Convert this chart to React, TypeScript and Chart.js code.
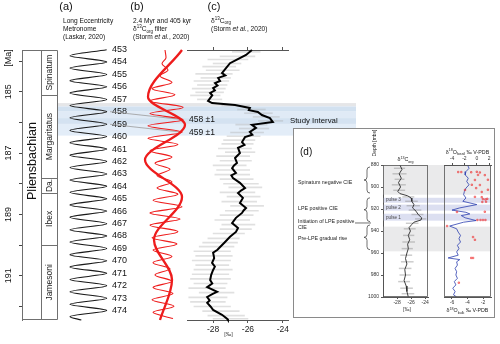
import React, { useEffect, useRef } from 'react';
import { Chart, registerables } from 'chart.js';

Chart.register(...registerables);

const FONT = '"Liberation Sans", Arial, Helvetica, sans-serif';
const W = 500;
const H = 344;

// ================= DATA =================
// Age axis (Ma) and stratigraphy
const AGE_MIN = 183.64;
const AGE_MAX = 192.44;
const ageTicks = [184, 185, 186, 187, 188, 189, 190, 191, 192];
const ageTickLabels = ['', '185', '', '187', '', '189', '', '191', ''];
const ageAxisTitle = '[Ma]';
const ageAxisTitleAge = 183.9;
const stageName = 'Pliensbachian';
const stageLabelAge = 187.26;
const zoneNames = ['Spinatum', 'Margaritatus', 'Da.', 'Ibex', 'Jamesoni'];
const zoneTops = [183.64, 185.11, 187.81, 188.3, 189.99];
const zoneBases = [185.11, 187.81, 188.3, 189.99, 192.44];

// Study interval band (Ma)
const studyBandTops = [185.37, 185.48, 185.63, 185.86, 186.05];
const studyBandBases = [185.48, 185.63, 185.86, 186.05, 186.43];
const studyLabel = 'Study Interval';
const studyLabelAge = 185.95;

// (a) Long eccentricity metronome
const eccCycles = [453, 454, 455, 456, 457, 458, 459, 460, 461, 462, 463, 464, 465, 466, 467, 468, 469, 470, 471, 472, 473, 474];
const eccPeakAges = [183.63, 184.03, 184.44, 184.84, 185.25, 185.65, 186.06, 186.46, 186.87, 187.27, 187.68, 188.08, 188.49, 188.89, 189.3, 189.7, 190.11, 190.51, 190.92, 191.32, 191.73, 192.13];
const eccPeakValues = [0.058, 0.058, 0.058, 0.058, 0.058, 0.058, 0.058, 0.058, 0.058, 0.058, 0.058, 0.058, 0.058, 0.058, 0.058, 0.058, 0.058, 0.058, 0.058, 0.058, 0.058, 0.058];
const eccTroughAges = [183.83, 184.23, 184.64, 185.04, 185.45, 185.85, 186.26, 186.66, 187.07, 187.47, 187.88, 188.28, 188.69, 189.09, 189.5, 189.9, 190.31, 190.71, 191.12, 191.52, 191.93, 192.33];
const eccTroughValues = [0.003, 0.003, 0.003, 0.003, 0.003, 0.003, 0.003, 0.003, 0.003, 0.003, 0.003, 0.003, 0.003, 0.003, 0.003, 0.003, 0.003, 0.003, 0.003, 0.003, 0.003, 0.003];
const eccEndAge = 192.44;
const eccEndValue = 0.02;

// (b) 2.4 Myr filter (thick) and 405 kyr filter (thin)
const filt24Ages = [183.64, 185.17, 186.08, 187.22, 188.43, 189.83, 191.13, 192.44];
const filt24Values = [0.85, -0.85, 1.0, -1.0, 0.85, -0.55, 0.35, -0.25];
const filt405StartAge = 183.64;
const filt405StartValue = 0.0;
const filt405PeakAges = [183.89, 184.29, 184.7, 185.1, 185.51, 185.91, 186.32, 186.72, 187.13, 187.53, 187.94, 188.34, 188.75, 189.15, 189.56, 189.96, 190.37, 190.77, 191.18, 191.58, 191.99, 192.39];
const filt405PeakValues = [0.05, 0.15, 0.35, 0.5, 0.9, 0.9, 0.85, 0.65, 0.35, 0.25, 0.35, 0.65, 0.85, 0.75, 0.65, 0.6, 0.35, 0.25, 0.35, 0.4, 0.45, 0.4];
const filt405TroughAges = [184.09, 184.49, 184.9, 185.3, 185.71, 186.11, 186.52, 186.92, 187.33, 187.73, 188.14, 188.54, 188.95, 189.35, 189.76, 190.16, 190.57, 190.97, 191.38, 191.78, 192.19];
const filt405TroughValues = [-0.15, -0.25, -0.65, -0.75, -0.75, -0.85, -0.85, -0.75, -0.5, -0.4, -0.4, -0.6, -0.75, -0.75, -0.65, -0.6, -0.6, -0.5, -0.6, -0.65, -0.6];
const tieCycles = [458, 459];
const tieLabels = ['458 ±1', '459 ±1'];

// (c) d13C org (smoothed) and raw spread
const cAges = [183.64, 183.8, 183.97, 184.07, 184.23, 184.39, 184.47, 184.55, 184.65, 184.72, 184.8, 184.88, 184.96, 185.04, 185.12, 185.21, 185.3, 185.37, 185.43, 185.53, 185.6, 185.66, 185.76, 185.86, 185.99, 186.08, 186.18, 186.31, 186.4, 186.48, 186.64, 186.73, 186.83, 187.0, 187.08, 187.16, 187.32, 187.4, 187.49, 187.65, 187.73, 187.81, 187.97, 188.14, 188.22, 188.3, 188.46, 188.63, 188.79, 188.87, 188.95, 189.11, 189.28, 189.44, 189.57, 189.73, 189.93, 190.06, 190.15, 190.25, 190.42, 190.58, 190.7, 190.81, 190.97, 191.14, 191.25, 191.37, 191.52, 191.6, 191.69, 191.8, 191.88, 192.0, 192.11, 192.27, 192.4, 192.44];
const cValues = [-25.77, -26.11, -26.69, -27.03, -27.26, -27.49, -27.3, -27.71, -27.6, -27.89, -27.75, -28.0, -27.9, -28.17, -28.05, -28.17, -28.29, -28.06, -26.74, -25.89, -25.95, -25.43, -25.2, -24.74, -24.57, -25.77, -25.54, -25.89, -25.75, -26.17, -26.34, -26.2, -26.57, -26.46, -26.6, -26.74, -26.63, -26.8, -26.91, -26.69, -26.95, -26.86, -26.46, -26.17, -26.4, -26.57, -26.29, -26.46, -26.11, -26.25, -26.34, -26.69, -26.91, -26.57, -26.69, -27.03, -27.37, -27.6, -27.75, -28.0, -27.94, -28.06, -27.9, -28.0, -28.11, -28.17, -28.05, -28.34, -27.77, -28.05, -28.34, -28.2, -28.34, -28.15, -28.0, -27.49, -27.2, -27.15];
const cRawAges = [183.7, 183.85, 183.95, 184.08, 184.18, 184.3, 184.42, 184.55, 184.65, 184.78, 184.9, 185.02, 185.12, 185.25, 185.45, 185.58, 185.7, 185.82, 185.95, 186.07, 186.2, 186.33, 186.45, 186.58, 186.7, 186.85, 186.97, 187.1, 187.25, 187.4, 187.55, 187.7, 187.85, 188.0, 188.12, 188.28, 188.42, 188.58, 188.72, 188.88, 189.02, 189.18, 189.33, 189.48, 189.62, 189.78, 189.92, 190.05, 190.2, 190.35, 190.5, 190.65, 190.8, 190.95, 191.1, 191.25, 191.4, 191.55, 191.7, 191.85, 192.0, 192.15, 192.3, 192.4];
const cRawMin = [-26.9, -27.6, -28.3, -28.0, -28.6, -28.4, -29.0, -28.7, -29.1, -28.9, -29.2, -29.0, -29.3, -28.9, -27.5, -26.6, -26.2, -25.7, -25.4, -26.7, -26.5, -27.0, -27.2, -27.4, -27.5, -27.7, -27.3, -27.8, -27.6, -28.0, -27.8, -27.9, -27.6, -27.4, -27.1, -27.6, -27.2, -27.5, -27.0, -27.3, -27.6, -27.9, -27.5, -27.6, -28.0, -28.3, -28.6, -28.8, -29.1, -29.0, -29.2, -29.0, -29.1, -29.2, -29.3, -29.1, -29.4, -28.8, -29.4, -29.3, -29.1, -28.6, -28.3, -28.0];
const cRawMax = [-25.3, -25.6, -26.0, -26.4, -26.7, -26.5, -26.9, -27.0, -27.1, -27.2, -27.3, -27.4, -27.6, -27.5, -25.9, -25.0, -24.6, -24.2, -24.0, -24.9, -24.8, -25.1, -25.3, -25.6, -25.7, -25.8, -25.6, -25.9, -25.8, -26.1, -25.9, -25.9, -25.7, -25.4, -25.2, -25.6, -25.3, -25.5, -25.1, -25.4, -25.7, -25.9, -25.6, -25.8, -26.2, -26.5, -26.6, -26.8, -27.0, -26.9, -27.0, -27.1, -26.9, -27.1, -27.0, -27.2, -27.3, -26.8, -27.2, -27.3, -27.0, -26.5, -26.2, -26.0];
const cTicks = [-28, -26, -24];

// (d) inset: depth domain
const depthTicks = [880, 900, 920, 940, 960, 980, 1000];
const insetShadeTops = [880, 909.8, 916, 924.3, 936];
const insetShadeBases = [907, 914.3, 921.5, 930.6, 958.5];
const insetShadeKinds = ['grey', 'pulse', 'pulse', 'pulse', 'grey'];
const pulseNames = ['pulse 3', 'pulse 2', 'pulse 1'];
const pulseDepths = [912, 918.7, 927.5];
const annoTexts = ['Spinatum negative CIE', 'LPE positive CIE', 'Initiation of LPE positive', 'CIE', 'Pre-LPE gradual rise'];
const annoDepths = [895.5, 920, 931, 937.3, 947.3];
const braceTops = [881.8, 909.8, 934.5];
const braceBases = [905.5, 931.5, 957];
const initiationDepth = 932.7;

const iC13Depths = [880, 884, 888, 892, 896, 900, 904, 906, 908, 910, 913, 916, 919, 922, 925, 928, 930, 932, 934, 937, 940, 944, 948, 952, 956, 960, 965, 970, 975, 980, 985, 990, 995, 1000];
const iC13Values = [-27.6, -27.3, -27.7, -27.4, -27.8, -27.5, -27.9, -27.6, -26.5, -26.0, -25.9, -25.6, -25.8, -25.3, -25.0, -24.5, -24.6, -25.6, -25.9, -26.3, -26.1, -26.4, -26.2, -26.5, -26.4, -26.6, -26.8, -26.6, -26.9, -26.8, -27.0, -26.7, -26.6, -26.4];
const iC13RawDepths = [883, 888, 893, 898, 903, 909, 913, 917, 921, 925, 929, 933, 938, 944, 950, 956, 962, 968, 974, 980, 986, 992, 997];
const iC13RawMin = [-28.4, -28.6, -28.3, -28.7, -28.5, -27.2, -26.8, -26.6, -26.3, -25.9, -25.4, -26.7, -27.0, -27.1, -27.2, -27.3, -27.5, -27.4, -27.7, -27.6, -27.8, -27.5, -27.3];
const iC13RawMax = [-26.9, -26.7, -27.0, -26.8, -26.9, -25.6, -25.1, -24.8, -24.6, -24.3, -23.9, -25.0, -25.4, -25.6, -25.5, -25.8, -25.9, -25.7, -26.0, -26.1, -26.2, -25.8, -25.6];
const iC13Ticks = [-28, -26, -24];

const bulkDepths = [880, 883, 886, 889, 892, 895, 898, 901, 904, 907, 910, 913, 916, 919, 921, 923, 924.5, 926, 928, 930.5, 932, 935.5, 938, 941, 944, 947, 950, 953, 956, 959, 962, 964.5, 966, 968, 971, 974, 977, 980, 983, 986, 989, 992, 995, 998, 1000];
const bulkValues = [-4.0, -3.8, -4.2, -4.3, -3.9, -4.1, -3.8, -4.2, -4.4, -4.5, -4.2, -4.6, -2.8, -5.0, -6.0, -4.2, -3.7, -4.8, -4.3, -2.9, -4.5, -6.3, -5.4, -5.2, -4.9, -5.1, -4.9, -5.3, -5.1, -5.4, -5.2, -6.5, -5.0, -5.4, -5.3, -5.6, -5.4, -5.5, -5.3, -5.7, -5.5, -5.9, -5.6, -5.8, -5.4];
const bulkTicks = [-6, -4, -2];
const fossilDepths = [886.4, 886.4, 886.6, 886.2, 886.8, 889, 889.2, 893.6, 893.4, 898, 898.2, 901, 902.7, 902.5, 904.5, 909, 909.2, 911, 911.3, 910.8, 913.6, 913.4, 922.7, 922.5, 930, 930, 930, 930, 935.5, 945.5, 948, 964.5, 964.5, 987];
const fossilValues = [-3.0, -2.5, -0.9, 0.0, 0.5, 0.2, 1.3, -0.3, 1.8, -0.8, 0.5, -0.1, -1.9, 1.8, 0.8, -0.3, 0.8, 1.0, 1.4, 1.7, 0.9, 1.5, -3.2, 1.3, 0.1, 0.6, 1.0, 1.4, -4.8, -0.6, -0.3, -0.9, -0.6, -2.9];
const fossilTicks = [-4, -2, 0, 2];

// ================= LAYOUT / STYLE =================
const LAY = {
  ageAxisX: 22, stageDivX: 41, zoneRightX: 57, top: 50, bottom: 320,
  eccLeft: 68, eccRight: 108,
  filtLeft: 140, filtRight: 190,
  cLeft: 187, cRight: 288,
  bandRight: 356,
  boxL: 293, boxT: 128, boxR: 495, boxB: 318,
  i1Left: 383, i1Right: 428, i2Left: 444, i2Right: 491, iTop: 165, iBottom: 297,
};
const STUDY_SHADES = ['#e5e6e8', '#d2e1f0', '#e0eaf6', '#d4e2f1', '#e3edf8'];
const INSET_SHADES: Record<string, string> = { grey: '#eaeaeb', pulse: '#dcdff1' };
const RED = '#ee1c1c';

type Part = { t: string; s: number; dy?: number; it?: boolean };

function drawParts(ctx: any, x: number, y: number, parts: Part[], align = 'left', color = '#111', rot = 0) {
  ctx.save();
  ctx.translate(x, y);
  if (rot) ctx.rotate(rot);
  ctx.fillStyle = color;
  ctx.textBaseline = 'middle';
  ctx.textAlign = 'left';
  const fontOf = (p: Part) => `${p.it ? 'italic ' : ''}${p.s}px ${FONT}`;
  let w = 0;
  for (const p of parts) { ctx.font = fontOf(p); w += ctx.measureText(p.t).width; }
  let cx = align === 'left' ? 0 : align === 'center' ? -w / 2 : -w;
  for (const p of parts) {
    ctx.font = fontOf(p);
    ctx.fillText(p.t, cx, p.dy || 0);
    cx += ctx.measureText(p.t).width;
  }
  ctx.restore();
}
function txt(ctx: any, t: string, x: number, y: number, s: number, align = 'left', color = '#111', rot = 0) {
  drawParts(ctx, x, y, [{ t, s }], align, color, rot);
}
function deltaParts(sup: string, el: string, sub: string, s: number, tail = ''): Part[] {
  const p: Part[] = [
    { t: 'δ', s },
    { t: sup, s: s * 0.68, dy: -s * 0.38 },
    { t: el, s },
    { t: sub, s: s * 0.68, dy: s * 0.3 },
  ];
  if (tail) p.push({ t: tail, s });
  return p;
}
function stormParts(s: number): Part[] {
  return [{ t: '(Storm ', s }, { t: 'et al.', s, it: true }, { t: ', 2020)', s }];
}

function common(padding: any) {
  return {
    animation: false,
    responsive: false,
    maintainAspectRatio: false,
    events: [],
    indexAxis: 'y',
    layout: { padding },
    plugins: { legend: { display: false }, tooltip: { enabled: false } },
  };
}
function ageScale() {
  return { type: 'linear', display: false, reverse: true, min: AGE_MIN, max: AGE_MAX, offset: false };
}
function fixedTicks(vals: number[]) {
  return (s: any) => { s.ticks = vals.map((v) => ({ value: v })); };
}
const mainPad = (left: number, right: number) => ({ left, right: W - right, top: LAY.top, bottom: H - LAY.bottom });

// ================= PLUGINS =================
const stratPlugin = {
  id: 'strat',
  beforeDatasetsDraw(chart: any) {
    const { ctx } = chart;
    const y = chart.scales.y;
    ctx.save();
    for (let i = 0; i < studyBandTops.length; i++) {
      const t = y.getPixelForValue(studyBandTops[i]);
      const b = y.getPixelForValue(studyBandBases[i]);
      ctx.fillStyle = STUDY_SHADES[i];
      ctx.fillRect(LAY.zoneRightX + 1, t, LAY.bandRight - LAY.zoneRightX - 1, b - t);
    }
    ctx.restore();
  },
  afterDraw(chart: any) {
    const { ctx } = chart;
    const y = chart.scales.y;
    const top = Math.round(y.getPixelForValue(AGE_MIN)) + 0.5;
    const bot = Math.round(y.getPixelForValue(AGE_MAX)) - 0.5;
    const X0 = LAY.ageAxisX + 0.5, X1 = LAY.stageDivX + 0.5, X2 = LAY.zoneRightX + 0.5;
    ctx.save();
    ctx.strokeStyle = '#707070';
    ctx.lineWidth = 1;
    ctx.beginPath();
    ctx.moveTo(X0, top); ctx.lineTo(X2, top);
    ctx.moveTo(X0, bot); ctx.lineTo(X2, bot);
    ctx.moveTo(X0, top); ctx.lineTo(X0, bot);
    ctx.moveTo(X1, top); ctx.lineTo(X1, bot);
    ctx.moveTo(X2, top); ctx.lineTo(X2, bot);
    for (let i = 1; i < zoneTops.length; i++) {
      const p = Math.round(y.getPixelForValue(zoneTops[i])) + 0.5;
      ctx.moveTo(X1, p); ctx.lineTo(X2, p);
    }
    ctx.stroke();
    ctx.restore();
    for (let i = 0; i < zoneNames.length; i++) {
      const c = y.getPixelForValue((zoneTops[i] + zoneBases[i]) / 2);
      txt(ctx, zoneNames[i], (X1 + X2) / 2 + 0.5, c, 8.5, 'center', '#222', -Math.PI / 2);
    }
    txt(ctx, stageName, (X0 + X1) / 2 + 0.5, y.getPixelForValue(stageLabelAge), 12.5, 'center', '#111', -Math.PI / 2);
    for (let i = 0; i < ageTicks.length; i++) {
      if (ageTickLabels[i]) txt(ctx, ageTickLabels[i], 9, y.getPixelForValue(ageTicks[i]), 9, 'center', '#111', -Math.PI / 2);
    }
    txt(ctx, ageAxisTitle, 9, y.getPixelForValue(ageAxisTitleAge), 9, 'center', '#111', -Math.PI / 2);
    // panel headers
    txt(ctx, '(a)', 66, 7, 11, 'center');
    txt(ctx, 'Long Eccentricity', 63, 21, 6.6);
    txt(ctx, 'Metronome', 63, 29.5, 6.6);
    txt(ctx, '(Laskar, 2020)', 63, 37.5, 6.6);
    txt(ctx, '(b)', 137, 7, 11, 'center');
    txt(ctx, '2.4 Myr and 405 kyr', 133, 21, 6.6);
    drawParts(ctx, 133, 29.5, deltaParts('13', 'C', 'org', 6.6, ' filter'));
    drawParts(ctx, 133, 37.5, stormParts(6.6));
    txt(ctx, '(c)', 214, 7, 11, 'center');
    drawParts(ctx, 211, 21, deltaParts('13', 'C', 'org', 6.6));
    drawParts(ctx, 211, 29.5, stormParts(6.6));
  },
};

const eccPlugin = {
  id: 'eccLabels',
  afterDraw(chart: any) {
    const { ctx } = chart;
    const y = chart.scales.y;
    for (let i = 0; i < eccCycles.length; i++) {
      txt(ctx, String(eccCycles[i]), LAY.eccRight + 4, y.getPixelForValue(eccPeakAges[i]), 9, 'left', '#111');
    }
  },
};

const tiePlugin = {
  id: 'ties',
  beforeDatasetsDraw(chart: any) {
    const { ctx } = chart;
    const y = chart.scales.y;
    const x = chart.scales.x;
    ctx.save();
    ctx.strokeStyle = '#9a9a9a';
    ctx.lineWidth = 0.8;
    for (const cyc of tieCycles) {
      const k = cyc - eccCycles[0];
      ctx.beginPath();
      ctx.moveTo(LAY.eccRight + 2, y.getPixelForValue(eccPeakAges[k]));
      ctx.lineTo(x.getPixelForValue(filt405PeakValues[k]), y.getPixelForValue(filt405PeakAges[k]));
      ctx.stroke();
    }
    ctx.restore();
  },
};

const cPlugin = {
  id: 'cLabels',
  afterDraw(chart: any) {
    const { ctx } = chart;
    const y = chart.scales.y;
    tieCycles.forEach((cyc, j) => {
      const k = cyc - eccCycles[0];
      txt(ctx, tieLabels[j], LAY.cLeft + 2, y.getPixelForValue(filt405PeakAges[k]), 8.5, 'left', '#111');
    });
    txt(ctx, studyLabel, 290, y.getPixelForValue(studyLabelAge), 7.8, 'left', '#111');
    txt(ctx, '[‰]', (LAY.cLeft + LAY.cRight) / 2 - 9, 334, 5.5, 'center', '#333');
  },
};

function drawBrace(ctx: any, x: number, t: number, b: number) {
  const m = (t + b) / 2;
  const d = 3;
  ctx.beginPath();
  ctx.moveTo(x + d, t);
  ctx.quadraticCurveTo(x, t, x, t + d);
  ctx.lineTo(x, m - d);
  ctx.quadraticCurveTo(x, m, x - d, m);
  ctx.quadraticCurveTo(x, m, x, m + d);
  ctx.lineTo(x, b - d);
  ctx.quadraticCurveTo(x, b, x + d, b);
  ctx.stroke();
}

const inset1Plugin = {
  id: 'inset1',
  beforeDraw(chart: any) {
    const { ctx } = chart;
    ctx.save();
    ctx.fillStyle = '#ffffff';
    ctx.fillRect(LAY.boxL, LAY.boxT, LAY.boxR - LAY.boxL, LAY.boxB - LAY.boxT);
    ctx.strokeStyle = '#8a8a8a';
    ctx.lineWidth = 1;
    ctx.strokeRect(LAY.boxL + 0.5, LAY.boxT + 0.5, LAY.boxR - LAY.boxL - 1, LAY.boxB - LAY.boxT - 1);
    ctx.restore();
  },
  beforeDatasetsDraw(chart: any) {
    const { ctx } = chart;
    const y = chart.scales.y;
    ctx.save();
    for (let i = 0; i < insetShadeTops.length; i++) {
      const t = y.getPixelForValue(insetShadeTops[i]);
      const b = y.getPixelForValue(insetShadeBases[i]);
      ctx.fillStyle = INSET_SHADES[insetShadeKinds[i]];
      ctx.fillRect(LAY.i1Left, t, LAY.i2Right - LAY.i1Left, b - t);
    }
    ctx.restore();
    for (let i = 0; i < pulseNames.length; i++) {
      txt(ctx, pulseNames[i], LAY.i1Left + 3, y.getPixelForValue(pulseDepths[i]), 4.6, 'left', '#444');
    }
  },
  afterDraw(chart: any) {
    const { ctx } = chart;
    const y = chart.scales.y;
    const a = chart.chartArea;
    ctx.save();
    ctx.strokeStyle = '#555';
    ctx.lineWidth = 0.8;
    ctx.strokeRect(Math.round(a.left) + 0.5, Math.round(a.top) + 0.5, Math.round(a.right - a.left) - 1, Math.round(a.bottom - a.top) - 1);
    ctx.strokeStyle = '#333';
    ctx.lineWidth = 0.7;
    for (let i = 0; i < braceTops.length; i++) {
      drawBrace(ctx, 367, y.getPixelForValue(braceTops[i]), y.getPixelForValue(braceBases[i]));
    }
    ctx.beginPath();
    const iy = y.getPixelForValue(initiationDepth);
    ctx.moveTo(355, iy); ctx.lineTo(371, iy);
    ctx.stroke();
    ctx.restore();
    for (let i = 0; i < annoTexts.length; i++) {
      txt(ctx, annoTexts[i], 298, y.getPixelForValue(annoDepths[i]), 5.3, 'left', '#222');
    }
    txt(ctx, '(d)', 300, 152, 10, 'left', '#111');
    txt(ctx, 'Depth [mbs]', 375, 143, 5, 'center', '#222', -Math.PI / 2);
    drawParts(ctx, (LAY.i1Left + LAY.i1Right) / 2, 160, deltaParts('13', 'C', 'org', 5.3), 'center', '#222');
    txt(ctx, '[‰]', 407, 310, 5, 'center', '#333');
  },
};

const inset2Plugin = {
  id: 'inset2',
  afterDraw(chart: any) {
    const { ctx } = chart;
    const a = chart.chartArea;
    ctx.save();
    ctx.strokeStyle = '#555';
    ctx.lineWidth = 0.8;
    ctx.strokeRect(Math.round(a.left) + 0.5, Math.round(a.top) + 0.5, Math.round(a.right - a.left) - 1, Math.round(a.bottom - a.top) - 1);
    ctx.restore();
    const cx = (LAY.i2Left + LAY.i2Right) / 2;
    drawParts(ctx, cx, 152.5, deltaParts('18', 'O', 'fossil', 5.3, ' ‰ V-PDB'), 'center', '#222');
    drawParts(ctx, cx, 311, deltaParts('18', 'O', 'bulk', 5.3, ' ‰ V-PDB'), 'center', '#222');
  },
};

// ================= COMPONENT =================
export default function App() {
  const r1 = useRef<HTMLCanvasElement>(null);
  const r2 = useRef<HTMLCanvasElement>(null);
  const r3 = useRef<HTMLCanvasElement>(null);
  const r4 = useRef<HTMLCanvasElement>(null);
  const r5 = useRef<HTMLCanvasElement>(null);
  const r6 = useRef<HTMLCanvasElement>(null);

  useEffect(() => {
    const charts: any[] = [];

    // 1: age axis + stratigraphy + study band
    charts.push(new Chart(r1.current as any, {
      type: 'scatter',
      data: { datasets: [{ data: [] }] },
      options: {
        ...common({ left: 0, right: W - LAY.zoneRightX, top: LAY.top, bottom: H - LAY.bottom }),
        indexAxis: 'x',
        scales: {
          x: { type: 'linear', display: false, min: 0, max: 1 },
          y: {
            type: 'linear', reverse: true, min: AGE_MIN, max: AGE_MAX, position: 'left', offset: false,
            afterBuildTicks: fixedTicks(ageTicks),
            afterFit: (s: any) => { s.width = LAY.ageAxisX; },
            ticks: { display: false },
            grid: { drawOnChartArea: false, drawTicks: true, tickLength: 3, color: '#444', lineWidth: 1 },
            border: { display: true, color: '#707070', width: 1 },
          },
        },
      } as any,
      plugins: [stratPlugin],
    } as any));

    // 2: eccentricity
    const eccPts = [
      ...eccPeakAges.map((a, i) => ({ y: a, x: eccPeakValues[i] })),
      ...eccTroughAges.map((a, i) => ({ y: a, x: eccTroughValues[i] })),
      { y: eccEndAge, x: eccEndValue },
    ].sort((p, q) => p.y - q.y);
    charts.push(new Chart(r2.current as any, {
      type: 'line',
      data: {
        datasets: [{
          data: eccPts, borderColor: '#1a1a1a', borderWidth: 1.1, pointRadius: 0,
          cubicInterpolationMode: 'monotone', clip: false, indexAxis: 'y',
        }],
      },
      options: {
        ...common(mainPad(LAY.eccLeft, LAY.eccRight)),
        scales: { x: { type: 'linear', display: false, min: 0, max: 0.06 }, y: ageScale() },
      } as any,
      plugins: [eccPlugin],
    } as any));

    // 3: filters
    const f24 = filt24Ages.map((a, i) => ({ y: a, x: filt24Values[i] }));
    const f405 = [
      { y: filt405StartAge, x: filt405StartValue },
      ...filt405PeakAges.map((a, i) => ({ y: a, x: filt405PeakValues[i] })),
      ...filt405TroughAges.map((a, i) => ({ y: a, x: filt405TroughValues[i] })),
    ].sort((p, q) => p.y - q.y);
    charts.push(new Chart(r3.current as any, {
      type: 'line',
      data: {
        datasets: [
          { data: f24, borderColor: RED, borderWidth: 2.3, pointRadius: 0, cubicInterpolationMode: 'monotone', clip: false, indexAxis: 'y' },
          { data: f405, borderColor: RED, borderWidth: 1.1, pointRadius: 0, cubicInterpolationMode: 'monotone', clip: false, indexAxis: 'y' },
        ],
      },
      options: {
        ...common(mainPad(LAY.filtLeft, LAY.filtRight)),
        scales: { x: { type: 'linear', display: false, min: -1.25, max: 1.25 }, y: ageScale() },
      } as any,
      plugins: [tiePlugin],
    } as any));

    // 4: d13C org panel (c)
    charts.push(new Chart(r4.current as any, {
      type: 'bar',
      data: {
        datasets: [
          {
            type: 'line', data: cAges.map((a, i) => ({ y: a, x: cValues[i] })),
            borderColor: '#000', borderWidth: 2, pointRadius: 0, tension: 0, order: 0, clip: false, indexAxis: 'y',
          },
          {
            type: 'bar', data: cRawAges.map((a, i) => ({ y: a, x: [cRawMin[i], cRawMax[i]] })),
            backgroundColor: 'rgba(165,165,165,0.35)', barThickness: 1, order: 1, indexAxis: 'y',
          },
        ],
      },
      options: {
        ...common({ left: LAY.cLeft, right: W - LAY.cRight, top: LAY.top, bottom: H - LAY.bottom - 14 }),
        scales: {
          x: {
            type: 'linear', position: 'bottom', min: -29.5, max: -23.7,
            afterBuildTicks: fixedTicks(cTicks),
            afterFit: (s: any) => { s.height = 14; },
            ticks: { font: { family: FONT, size: 8.5 }, color: '#222', padding: 2, callback: (v: any) => String(v) },
            grid: { drawOnChartArea: false, tickLength: 3, color: '#555' },
            border: { display: true, color: '#555' },
          },
          x2: {
            type: 'linear', axis: 'x', position: 'top', min: -29.5, max: -23.7,
            afterBuildTicks: fixedTicks(cTicks),
            afterFit: (s: any) => { s.height = 0; },
            ticks: { display: false },
            grid: { drawOnChartArea: false, tickLength: 3, color: '#555' },
            border: { display: true, color: '#555' },
          },
          y: ageScale(),
        },
      } as any,
      plugins: [cPlugin],
    } as any));

    // 5: inset d13C
    charts.push(new Chart(r5.current as any, {
      type: 'bar',
      data: {
        datasets: [
          {
            type: 'line', data: iC13Depths.map((d, i) => ({ y: d, x: iC13Values[i] })),
            borderColor: '#2a2a2a', borderWidth: 0.9, pointRadius: 0, tension: 0, order: 0, indexAxis: 'y',
          },
          {
            type: 'bar', data: iC13RawDepths.map((d, i) => ({ y: d, x: [iC13RawMin[i], iC13RawMax[i]] })),
            backgroundColor: 'rgba(140,140,140,0.45)', barThickness: 0.8, order: 1, indexAxis: 'y',
          },
        ],
      },
      options: {
        ...common({ left: LAY.i1Left - 20, right: W - LAY.i1Right, top: LAY.iTop, bottom: H - LAY.iBottom - 10 }),
        scales: {
          x: {
            type: 'linear', position: 'bottom', min: -30, max: -23.6,
            afterBuildTicks: fixedTicks(iC13Ticks),
            afterFit: (s: any) => { s.height = 10; },
            ticks: { font: { family: FONT, size: 5 }, color: '#333', padding: 1, callback: (v: any) => String(v) },
            grid: { drawOnChartArea: false, tickLength: 2, color: '#555' },
            border: { display: true, color: '#555' },
          },
          y: {
            type: 'linear', position: 'left', reverse: true, min: 880, max: 1000, offset: false,
            afterBuildTicks: fixedTicks(depthTicks),
            afterFit: (s: any) => { s.width = 20; },
            ticks: { font: { family: FONT, size: 5 }, color: '#333', padding: 2, callback: (v: any) => String(v) },
            grid: { drawOnChartArea: false, tickLength: 2, color: '#555', offset: false },
            border: { display: true, color: '#555' },
          },
        },
      } as any,
      plugins: [inset1Plugin],
    } as any));

    // 6: inset d18O
    charts.push(new Chart(r6.current as any, {
      type: 'line',
      data: {
        datasets: [
          {
            data: bulkDepths.map((d, i) => ({ y: d, x: bulkValues[i] })), xAxisID: 'x',
            borderColor: '#2c3fb0', borderWidth: 0.8, pointRadius: 0, tension: 0, indexAxis: 'y', order: 1,
          },
          {
            data: fossilDepths.map((d, i) => ({ y: d, x: fossilValues[i] })), xAxisID: 'x2',
            showLine: false, pointStyle: 'rect', pointRadius: 1, borderColor: RED, borderWidth: 0.6,
            backgroundColor: 'rgba(255,255,255,0)', indexAxis: 'y', order: 0,
          },
        ],
      },
      options: {
        ...common({ left: LAY.i2Left, right: W - LAY.i2Right, top: LAY.iTop - 10, bottom: H - LAY.iBottom - 10 }),
        scales: {
          x: {
            type: 'linear', position: 'bottom', min: -7.03, max: -0.97,
            afterBuildTicks: fixedTicks(bulkTicks),
            afterFit: (s: any) => { s.height = 10; },
            ticks: { font: { family: FONT, size: 5 }, color: '#333', padding: 1, callback: (v: any) => String(v) },
            grid: { drawOnChartArea: false, tickLength: 2, color: '#555' },
            border: { display: true, color: '#555' },
          },
          x2: {
            type: 'linear', axis: 'x', position: 'top', min: -5.3, max: 2.3,
            afterBuildTicks: fixedTicks(fossilTicks),
            afterFit: (s: any) => { s.height = 10; },
            ticks: { font: { family: FONT, size: 5 }, color: '#333', padding: 1, callback: (v: any) => String(v) },
            grid: { drawOnChartArea: false, tickLength: 2, color: '#555' },
            border: { display: true, color: '#555' },
          },
          y: { type: 'linear', display: false, reverse: true, min: 880, max: 1000, offset: false },
        },
      } as any,
      plugins: [inset2Plugin],
    } as any));

    return () => { charts.forEach((c) => c.destroy()); };
  }, []);

  const cs: any = { position: 'absolute', left: 0, top: 0, width: W, height: H };
  return (
    <div style={{ position: 'absolute', left: 0, top: 0, width: W, height: H, background: '#fff' }}>
      <canvas ref={r1} width={W} height={H} style={cs} />
      <canvas ref={r2} width={W} height={H} style={cs} />
      <canvas ref={r3} width={W} height={H} style={cs} />
      <canvas ref={r4} width={W} height={H} style={cs} />
      <canvas ref={r5} width={W} height={H} style={cs} />
      <canvas ref={r6} width={W} height={H} style={cs} />
    </div>
  );
}
